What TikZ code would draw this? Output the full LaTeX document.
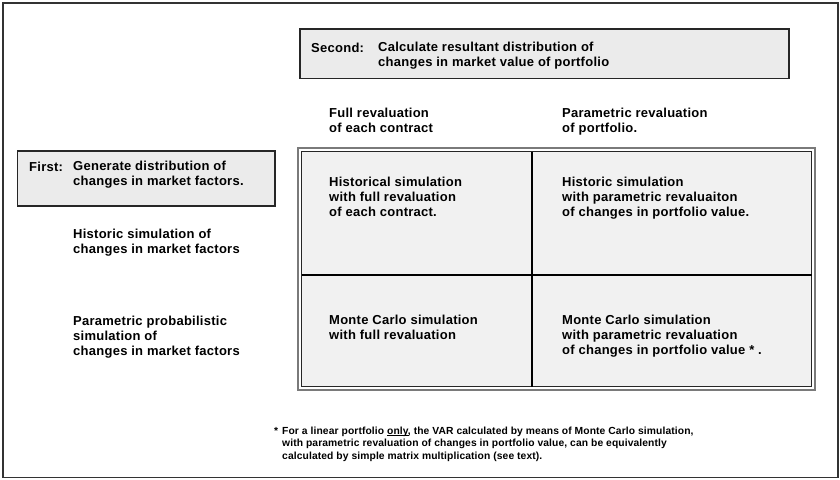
\documentclass[tikz,border=0pt]{standalone}
\usepackage{fontspec}
\setmainfont{Liberation Sans}
\usetikzlibrary{positioning}
\definecolor{boxgray}{HTML}{EBEBEB}
\definecolor{cellgray}{HTML}{F1F1F1}
\definecolor{rimgray}{HTML}{7A7A7A}
\newcommand{\ulword}[1]{\setbox0=\hbox{#1}\rlap{\vrule width\wd0 height -1.3pt depth 2pt}#1}
% base west sits on the last line of a node
\tikzset{
  lbl/.style={anchor=base west, align=left, inner sep=0pt,
    font=\bfseries\fontsize{13}{15}\selectfont\addfontfeature{LetterSpace=2}}
}
\tikzset{
  note/.style={anchor=base west, align=left, inner sep=0pt,
    font=\bfseries\fontsize{10.3}{12.5}\selectfont\addfontfeature{LetterSpace=1}}
}
\tikzset{
  stepbox/.style={draw=black!85, line width=1.8pt, fill=boxgray}
}
\begin{document}
\begin{tikzpicture}[x=1pt, y=-1pt]
  \useasboundingbox (0,0) rectangle (840,479);
  % outer frame
  \draw[black!80, line width=1.8pt] (3,3) rectangle (838,477.5);

  % second step
  \draw[stepbox] (300,29) rectangle (789,78.5);
  \node[lbl] (second) at (311,52) {Second:};
  \node[lbl] (secondtxt) at (378,66.5) {Calculate resultant distribution of\\changes in market value of portfolio};

  % column heads
  \node[lbl] (fullrev) at (329,132) {Full revaluation\\of each contract};
  \node[lbl] (parrev) at (562,132) {Parametric revaluation\\of portfolio.};

  % first step
  \draw[stepbox] (17.5,151) rectangle (275,206);
  \node[lbl] (first) at (29,171) {First:};
  \node[lbl] (firsttxt) at (73,185) {Generate distribution of\\changes in market factors.};

  % row heads
  \node[lbl] (histsim) at (73,253) {Historic simulation of\\changes in market factors};
  \node[lbl] (parsim) at (73,355) {Parametric probabilistic\\simulation of\\changes in market factors};

  % grid of methods
  \fill[cellgray] (301,151) rectangle (812,387);
  \draw[rimgray, line width=1.6pt] (298,148) rectangle (815,390);
  \draw[black!85, line width=1.3pt] (301.5,151.5) rectangle (811.5,386.5);
  \draw[black, line width=2pt] (531.5,151.5) -- (531.5,386.5);
  \draw[black, line width=2pt] (301.5,275) -- (811.5,275);

  \node[lbl] (cellHF) at (329,216.5) {Historical simulation\\with full revaluation\\of each contract.};
  \node[lbl] (cellHP) at (562,216.5) {Historic simulation\\with parametric revaluaiton\\of changes in portfolio value.};
  \node[lbl] (cellMF) at (329,339) {Monte Carlo simulation\\with full revaluation};
  \node[lbl] (cellMP) at (562,354) {Monte Carlo simulation\\with parametric revaluation\\of changes in portfolio value * .};

  % footnote
  \node[note] (star) at (274,434) {*};
  \node[note] (footnote) at (282,459) {For a linear portfolio \ulword{only}, the VAR calculated by means of Monte Carlo simulation,\\with parametric revaluation of changes in portfolio value, can be equivalently\\calculated by simple matrix multiplication (see text).};
\end{tikzpicture}
\end{document}
